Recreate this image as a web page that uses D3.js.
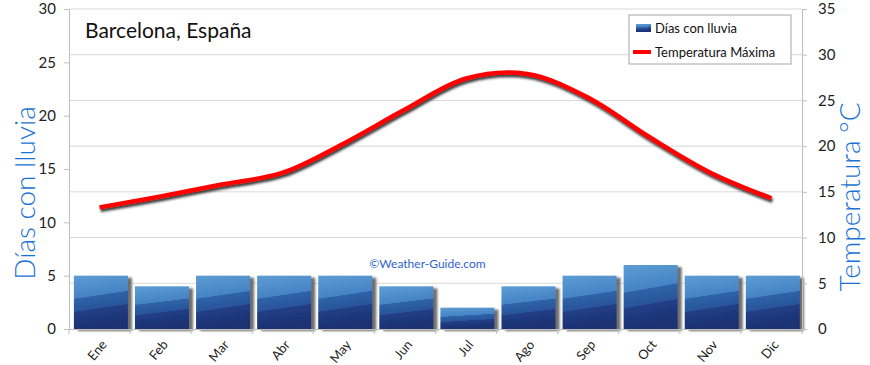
<!DOCTYPE html>
<html>
<head>
<meta charset="utf-8">
<script src="https://cdn.jsdelivr.net/npm/d3@7"></script>
<style>
  body { margin: 0; background: #fff; }
  text { font-family: Lato, "Open Sans", sans-serif; }
</style>
</head>
<body>
<div id="wrapper"></div>
<script>
const months = ["Ene", "Feb", "Mar", "Abr", "May", "Jun", "Jul", "Ago", "Sep", "Oct", "Nov", "Dic"];
const rainDays = [5, 4, 5, 5, 5, 4, 2, 4, 5, 6, 5, 5];
const maxTemp = [13.3, 14.5, 15.8, 17.1, 20.3, 24.0, 27.4, 27.9, 25.3, 21.0, 17.1, 14.3];
const leftTicks = [0, 5, 10, 15, 20, 25, 30];
const rightTicks = [0, 5, 10, 15, 20, 25, 30, 35];

function drawChart() {
  let dimensions = {
    width: 870,
    height: 365,
    margin: { top: 9, left: 69, bottom: 36, right: 68 }
  };
  dimensions.boundedWidth = dimensions.width - dimensions.margin.left - dimensions.margin.right;
  dimensions.boundedHeight = dimensions.height - dimensions.margin.top - dimensions.margin.bottom;

  const wrapper = d3.select("#wrapper").append("svg")
    .attr("width", dimensions.width)
    .attr("height", dimensions.height);

  const defs = wrapper.append("defs");
  const grad = defs.append("linearGradient").attr("id", "barGrad")
    .attr("x1", 0).attr("y1", 0).attr("x2", 0.15).attr("y2", 1);
  [["0", "#5d9dd4"], ["0.42", "#4583c4"], ["0.43", "#2e63a9"], ["0.66", "#2a549b"],
   ["0.67", "#223f86"], ["1", "#1b3172"]].forEach(s => {
    grad.append("stop").attr("offset", s[0]).attr("stop-color", s[1]);
  });
  const shadow = defs.append("filter").attr("id", "barShadow")
    .attr("x", "-10%").attr("y", "-10%").attr("width", "130%").attr("height", "130%");
  shadow.append("feDropShadow").attr("dx", 4).attr("dy", 2).attr("stdDeviation", 1.2)
    .attr("flood-color", "#555").attr("flood-opacity", 0.85);
  const lineShadow = defs.append("filter").attr("id", "lineShadow")
    .attr("x", "-5%").attr("y", "-20%").attr("width", "110%").attr("height", "140%");
  lineShadow.append("feDropShadow").attr("dx", 1).attr("dy", 2.5).attr("stdDeviation", 1.2)
    .attr("flood-color", "#222").attr("flood-opacity", 0.9);

  const container = wrapper.append("g")
    .attr("transform", `translate(${dimensions.margin.left},${dimensions.margin.top})`);

  const xScale = d3.scaleBand().domain(months).range([0, dimensions.boundedWidth]);
  const yLeft = d3.scaleLinear().domain([0, 30]).range([dimensions.boundedHeight, 0]);
  const yRight = d3.scaleLinear().domain([0, 35]).range([dimensions.boundedHeight, 0]);

  // gridlines follow the temperature axis
  container.append("g").selectAll("line")
    .data(rightTicks.slice(1))
    .join("line")
    .attr("x1", 0).attr("x2", dimensions.boundedWidth)
    .attr("y1", d => yRight(d)).attr("y2", d => yRight(d))
    .attr("stroke", "#d9d9d9");

  // bars
  const bw = xScale.bandwidth();
  container.append("g").selectAll("rect")
    .data(rainDays)
    .join("rect")
    .attr("x", (d, i) => xScale(months[i]) + bw * 0.08)
    .attr("y", d => yLeft(d))
    .attr("width", bw * 0.885)
    .attr("height", d => dimensions.boundedHeight - yLeft(d))
    .attr("fill", "url(#barGrad)")
    .attr("filter", "url(#barShadow)");

  // temperature line
  const line = d3.line()
    .x((d, i) => xScale(months[i]) + bw / 2)
    .y(d => yRight(d))
    .curve(d3.curveCatmullRom.alpha(0.5));
  container.append("path")
    .datum(maxTemp)
    .attr("d", line)
    .attr("fill", "none")
    .attr("stroke", "#ff0000")
    .attr("stroke-width", 4.5)
    .attr("filter", "url(#lineShadow)");

  // axes
  const axisColor = "#bfbfbf";
  const leftAxis = container.append("g")
    .call(d3.axisLeft(yLeft).tickValues(leftTicks).tickSize(5).tickPadding(8));
  const rightAxis = container.append("g")
    .attr("transform", `translate(${dimensions.boundedWidth},0)`)
    .call(d3.axisRight(yRight).tickValues(rightTicks).tickSize(5).tickPadding(11));
  const bottomAxis = container.append("g")
    .attr("transform", `translate(0,${dimensions.boundedHeight})`)
    .call(d3.axisBottom(xScale).tickSize(0).tickPadding(0));

  [leftAxis, rightAxis, bottomAxis].forEach(a => {
    a.select(".domain").attr("stroke", axisColor);
    a.selectAll(".tick line").attr("stroke", axisColor);
    a.selectAll("text").attr("fill", "#222").style("font-size", "15px");
  });

  // ticks between categories on x axis
  container.append("g").selectAll("line")
    .data(months.concat(["end"]))
    .join("line")
    .attr("x1", (d, i) => i * bw).attr("x2", (d, i) => i * bw)
    .attr("y1", dimensions.boundedHeight).attr("y2", dimensions.boundedHeight + 5)
    .attr("stroke", axisColor);

  bottomAxis.selectAll(".tick text")
    .attr("text-anchor", "end")
    .attr("dy", 0)
    .attr("transform", "translate(8,16) rotate(-50)")
    .style("font-size", "13px");

  // title
  container.append("text")
    .attr("x", 16).attr("y", 29)
    .style("font-size", "21px")
    .attr("fill", "#111")
    .text("Barcelona, España");

  // watermark
  container.append("text")
    .attr("x", dimensions.boundedWidth / 2 - 8).attr("y", 259)
    .attr("text-anchor", "middle")
    .style("font-size", "12px")
    .attr("fill", "#2f63d0")
    .text("©Weather-Guide.com");

  // axis titles
  wrapper.append("text")
    .attr("transform", `translate(35,${dimensions.margin.top + dimensions.boundedHeight / 2 + 24}) rotate(-90)`)
    .attr("text-anchor", "middle")
    .style("font-size", "28px")
    .style("font-weight", 300)
    .attr("fill", "#1a73d4")
    .text("Días con lluvia");
  wrapper.append("text")
    .attr("transform", `translate(860,${dimensions.margin.top + dimensions.boundedHeight / 2 + 28}) rotate(-90)`)
    .attr("text-anchor", "middle")
    .style("font-size", "28px")
    .style("font-weight", 300)
    .attr("fill", "#1a73d4")
    .text("Temperatura °C");

  // legend
  const legend = wrapper.append("g").attr("transform", "translate(629,15)");
  legend.append("rect")
    .attr("width", 162).attr("height", 49)
    .attr("fill", "#fff").attr("stroke", "#a6a6a6");
  legend.append("rect")
    .attr("x", 7).attr("y", 9).attr("width", 15).attr("height", 8)
    .attr("fill", "url(#barGrad)");
  legend.append("line")
    .attr("x1", 4).attr("x2", 22).attr("y1", 37).attr("y2", 37)
    .attr("stroke", "#ff0000").attr("stroke-width", 4);
  legend.append("text").attr("x", 26).attr("y", 18)
    .style("font-size", "13px").attr("fill", "#111").text("Días con lluvia");
  legend.append("text").attr("x", 26).attr("y", 42)
    .style("font-size", "13px").attr("fill", "#111").text("Temperatura Máxima");
}

drawChart();
</script>
</body>
</html>
